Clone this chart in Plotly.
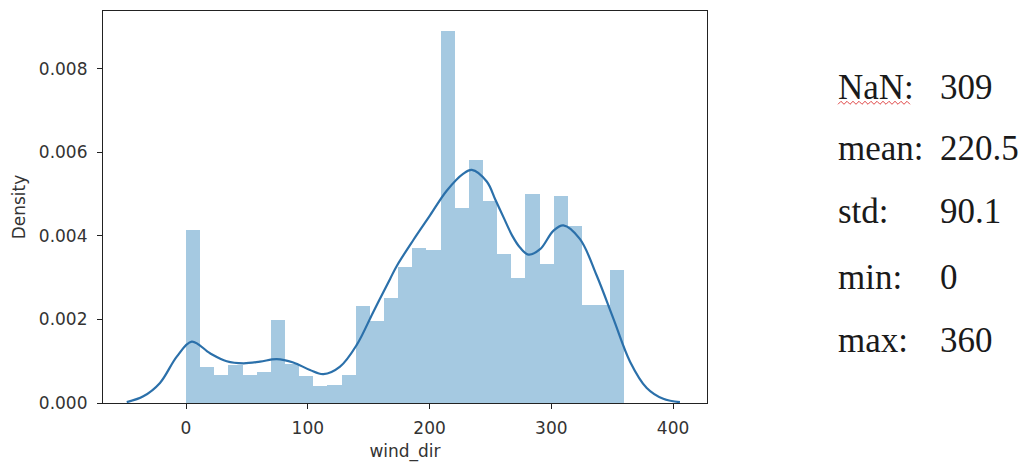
import numpy as np
import plotly.graph_objects as go

# ---- data ----
bin_count = 31
bin_range = (0, 360)
bar_density = [0.00414, 0.00087, 0.00067, 0.00091, 0.00067, 0.00074, 0.00198, 0.00093,
               0.00065, 0.00040, 0.00044, 0.00067, 0.00233, 0.00196, 0.00252, 0.00325,
               0.00370, 0.00367, 0.00891, 0.00466, 0.00582, 0.00483, 0.00357, 0.00298,
               0.00501, 0.00333, 0.00496, 0.00424, 0.00234, 0.00234, 0.00319]

kde_x = [-48.7, -35.1, -21.4, -7.6, 4.7, 19.7, 33.4, 47.1, 60.8, 74.5, 88.1, 101.8, 112.8,
         126.5, 140.2, 153.8, 167.6, 173.1, 186.7, 200.4, 214.1, 227.8, 234.7, 247.0,
         254.0, 261.0, 268.0, 274.3, 281.2, 290.8, 301.7, 309.9, 323.6, 337.3, 351.0,
         364.7, 378.4, 392.0, 405.7]
kde_y = [0.00002, 0.00016, 0.00048, 0.00111, 0.00147, 0.00119, 0.00100, 0.00095, 0.00099,
         0.00105, 0.00097, 0.00079, 0.00069, 0.00087, 0.00139, 0.00218, 0.00297, 0.00328,
         0.00390, 0.00449, 0.00508, 0.00549, 0.00558, 0.00530, 0.00487, 0.00443, 0.00400,
         0.00372, 0.00355, 0.00368, 0.00412, 0.00425, 0.00392, 0.00305, 0.00202, 0.00099,
         0.00036, 0.00010, 0.00002]

x_ticks = [0, 100, 200, 300, 400]
y_ticks = [0.000, 0.002, 0.004, 0.006, 0.008]
y_tick_labels = ["0.000", "0.002", "0.004", "0.006", "0.008"]

stat_labels = ["NaN:", "mean:", "std:", "min:", "max:"]
stat_values = ["309", "220.5", "90.1", "0", "360"]

# ---- layout constants (pixels) ----
W, H = 1031, 467
L, R, T, B = 103, 707, 10, 405

edges = np.linspace(bin_range[0], bin_range[1], bin_count + 1)
centers = (edges[:-1] + edges[1:]) / 2
widths = np.diff(edges)

fig = go.Figure()
fig.add_trace(go.Bar(x=centers, y=bar_density, width=widths,
                     marker=dict(color="rgba(31,119,180,0.4)", line=dict(width=0)),
                     showlegend=False, hoverinfo="skip"))
fig.add_trace(go.Scatter(x=kde_x, y=kde_y, mode="lines", line_shape="spline",
                         line=dict(color="#2b70aa", width=2.2), showlegend=False))

tick_font = dict(family="DejaVu Sans", size=17, color="#333333")
fig.update_layout(
    width=W, height=H,
    margin=dict(l=L, r=W - R, t=T, b=H - B),
    paper_bgcolor="white", plot_bgcolor="white",
    bargap=0,
    xaxis=dict(range=[-68.2, 427.9], tickvals=x_ticks, ticks="outside", ticklen=5,
               tickcolor="#222", showgrid=False, zeroline=False, showline=True,
               linecolor="#222", linewidth=1.2, mirror=True, tickfont=tick_font,
               ticklabelstandoff=4,
               title=dict(text="wind_dir", font=tick_font, standoff=8)),
    yaxis=dict(range=[0, 0.00938], tickvals=y_ticks, ticktext=y_tick_labels,
               ticks="outside", ticklen=5, tickcolor="#222", showgrid=False,
               zeroline=False, showline=True, linecolor="#222", linewidth=1.2,
               mirror=True, tickfont=tick_font, ticklabelstandoff=6,
               title=dict(text="Density", font=tick_font, standoff=8)),
)

def px_to_paper(px, py):
    return (px - L) / (R - L), (B - py) / (B - T)

row_centers = [87, 149, 212, 279, 342]
stat_font = dict(family="Liberation Serif", size=35, color="#1a1a1a")
for lab, val, cy in zip(stat_labels, stat_values, row_centers):
    ax, ay = px_to_paper(836, cy)
    fig.add_annotation(x=ax, y=ay, xref="paper", yref="paper", text=lab,
                       showarrow=False, xanchor="left", yanchor="middle", font=stat_font)
    vx, vy = px_to_paper(938, cy)
    fig.add_annotation(x=vx, y=vy, xref="paper", yref="paper", text=val,
                       showarrow=False, xanchor="left", yanchor="middle", font=stat_font)

# red spell-check squiggle under "NaN"
pts = []
sx = 838
i = 0
while sx <= 912:
    pts.append(px_to_paper(sx, 104 if i % 2 == 0 else 101))
    sx += 3
    i += 1
path = "M " + " L ".join(f"{p[0]:.5f},{p[1]:.5f}" for p in pts)
fig.add_shape(type="path", path=path, xref="paper", yref="paper",
              line=dict(color="#e04848", width=1))

fig.write_html("out.html")
